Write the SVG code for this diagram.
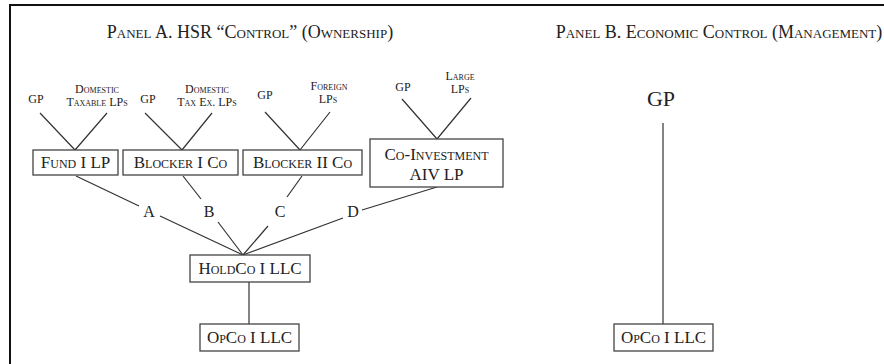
<svg xmlns="http://www.w3.org/2000/svg" width="884" height="364" viewBox="0 0 884 364">
<style>
text{font-family:"Liberation Serif","Times New Roman",serif;fill:#222;font-variant:small-caps}
.t{font-size:18px}
.s{font-size:12px}
.b{font-size:17px}
.l{font-size:16px;font-variant:normal}
.box{fill:#fff;stroke:#444;stroke-width:1.3}
.c{stroke:#333;stroke-width:1.2;fill:none}
.f{stroke:#111;stroke-width:2;fill:none}
</style>
<rect width="884" height="364" fill="#fff"/>
<path class="f" d="M10,364V5H884"/>
<g id="titles" text-anchor="middle">
<text class="t" x="250" y="38">Panel A. HSR “Control” (Ownership)</text>
<text class="t" x="719" y="38">Panel B. Economic Control (Management)</text>
</g>
<g id="connectors">
<path class="c" d="M40,113L75,150M107,113L75,150"/>
<path class="c" d="M145,113L182,150M212,113L182,150"/>
<path class="c" d="M265,112L300,150M330,112L300,150"/>
<path class="c" d="M402,99L437,139M471,98L437,139"/>
<path class="c" d="M76,176L139,206M160,216L243,255"/>
<path class="c" d="M183,176L201,199M218,222L243,255"/>
<path class="c" d="M302,176L287,197M268,226L243,255"/>
<path class="c" d="M437,187L362,210M343,218L243,255"/>
<path class="c" d="M249,282V324"/>
<path class="c" d="M663,123V324"/>
</g>
<g id="labels" text-anchor="middle">
<text class="s" x="36" y="103">GP</text>
<text class="s" x="97" y="93">Domestic</text>
<text class="s" x="97" y="106">Taxable LPs</text>
<text class="s" x="148" y="103">GP</text>
<text class="s" x="207" y="93">Domestic</text>
<text class="s" x="207" y="106">Tax Ex. LPs</text>
<text class="s" x="265" y="99">GP</text>
<text class="s" x="329" y="90">Foreign</text>
<text class="s" x="328" y="103">LPs</text>
<text class="s" x="403" y="91">GP</text>
<text class="s" x="460" y="80">Large</text>
<text class="s" x="460" y="93">LPs</text>
<text class="l" x="149" y="217">A</text>
<text class="l" x="209" y="217">B</text>
<text class="l" x="280" y="217">C</text>
<text class="l" x="353" y="217">D</text>
</g>
<g id="fund" text-anchor="middle"><rect class="box" x="33" y="150" width="85" height="25"/><text class="b" x="75.5" y="168">Fund I LP</text></g>
<g id="blocker1" text-anchor="middle"><rect class="box" x="123" y="150" width="115" height="25"/><text class="b" x="180.5" y="168">Blocker I Co</text></g>
<g id="blocker2" text-anchor="middle"><rect class="box" x="243" y="150" width="119" height="25"/><text class="b" x="302.5" y="168">Blocker II Co</text></g>
<g id="coinvest" text-anchor="middle"><rect class="box" x="370" y="139" width="133" height="48"/><text class="b" x="436.5" y="160">Co-Investment</text><text class="b" x="436.5" y="180">AIV LP</text></g>
<g id="holdco" text-anchor="middle"><rect class="box" x="190" y="255" width="120" height="27"/><text class="b" x="250" y="274">HoldCo I LLC</text></g>
<g id="opco-a" text-anchor="middle"><rect class="box" x="200" y="324" width="99" height="27"/><text class="b" x="249.5" y="343">OpCo I LLC</text></g>
<g id="gp-b" text-anchor="middle"><text x="661" y="106" style="font-size:22px;font-variant:normal">GP</text></g>
<g id="opco-b" text-anchor="middle"><rect class="box" x="614" y="324" width="99" height="27"/><text class="b" x="663.5" y="343">OpCo I LLC</text></g>
</svg>
